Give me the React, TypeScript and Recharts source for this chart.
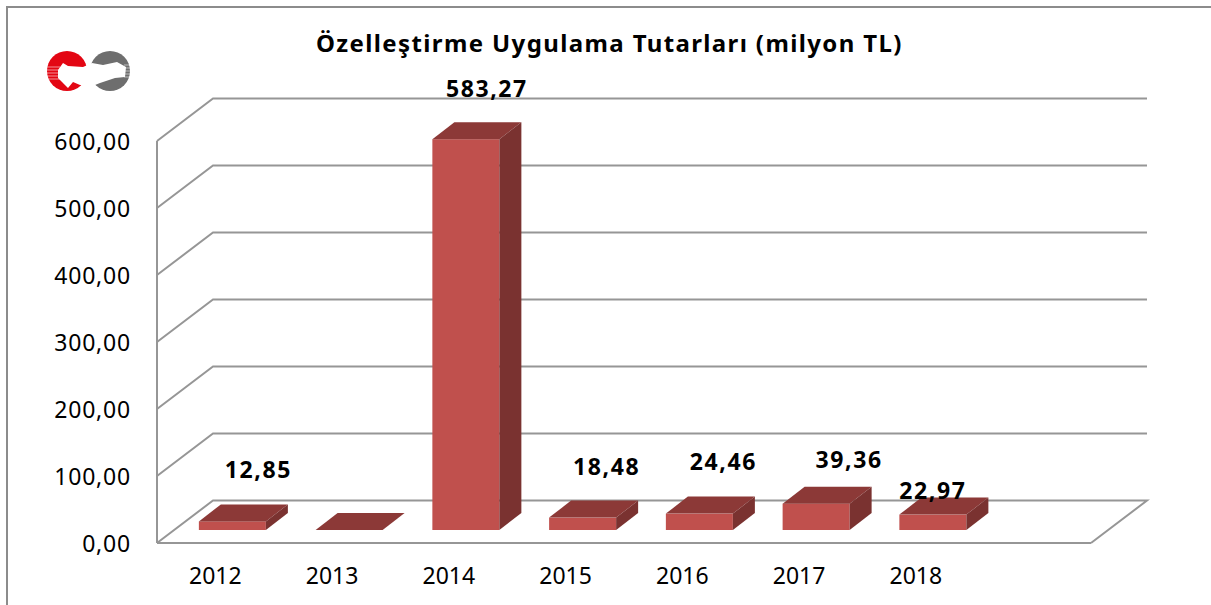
import { Bar, BarChart, CartesianGrid, LabelList, XAxis, YAxis } from 'recharts';

const years = ['2012', '2013', '2014', '2015', '2016', '2017', '2018', ''];
const amounts = [12.85, 0, 583.27, 18.48, 24.46, 39.36, 22.97, null];
const valueTicks = [0, 100, 200, 300, 400, 500, 600];

// labels were hand-placed in the original, offset from the bar's front top centre
const labelShiftX = [26, 0, 21, 24, 24, 33, 0, 0];
const labelShiftY = [-52, 0, -51, -52, -53, -45, -25, 0];

const rows = years.map((year, i) => ({ year, amount: amounts[i] }));

const GRID = '#969696';
const FONT = 'Noto Sans';
const BACK_X = 56;
const BACK_Y = -42.5;
const BAR_X = 17;
const BAR_Y = -13;
const DEPTH_X = 22;
const DEPTH_Y = -17;

const fmt = (v: number) => v.toFixed(2).replace('.', ',');

const GridLine = (props: any) => {
  const { x1, y1, x2 } = props;
  let d = `M${x1},${y1}L${x1 + BACK_X},${y1 + BACK_Y}L${x2 + BACK_X},${y1 + BACK_Y}`;
  // floor closes at the right front corner
  if (y1 > 500) d += `L${x2},${y1}`;
  return <path d={d} fill="none" stroke={GRID} strokeWidth={2} />;
};

const Bar3D = (props: any) => {
  const { width: w, height: h } = props;
  const x = props.x + BAR_X;
  const y = props.y + BAR_Y;
  const b = y + h;
  return (
    <g>
      {h > 0 && <rect x={x} y={y} width={w} height={h} fill="#c0504d" />}
      <path
        d={`M${x},${y}L${x + DEPTH_X},${y + DEPTH_Y}L${x + w + DEPTH_X},${y + DEPTH_Y}L${x + w},${y}Z`}
        fill="#8c3937"
      />
      {h > 0 && (
        <path
          d={`M${x + w},${y}L${x + w + DEPTH_X},${y + DEPTH_Y}L${x + w + DEPTH_X},${b + DEPTH_Y}L${x + w},${b}Z`}
          fill="#7a3230"
        />
      )}
    </g>
  );
};

const ValueLabel = (props: any) => {
  const { x, y, width, value, index } = props;
  if (!value) return null;
  return (
    <text
      x={x + BAR_X + width / 2 + labelShiftX[index]}
      y={y + BAR_Y + labelShiftY[index]}
      textAnchor="middle"
      dominantBaseline="central"
      fontFamily={FONT}
      fontWeight="bold"
      fontSize={23}
      letterSpacing={1.6}
      fill="#000"
    >
      {fmt(value)}
    </text>
  );
};

const Logo = () => (
  <svg width={100} height={55} style={{ position: 'absolute', left: 40, top: 45 }}>
    <g style={{ filter: 'blur(0.6px)' }}>
      <circle cx={27} cy={26} r={20} fill="#e30613" />
      <circle cx={70} cy={26} r={20} fill="#6e6e6e" />
      <path
        d="M18,25 L23,18 L28,21 L43,22 L52,18 L63,20 L77,17 L86,22 L85,32 L75,33 L60,38 L50,42 L40,40 L33,37 L28,43 L22,37 L18,33 Z"
        fill="#fff"
      />
      <path d="M7,22H20M7,25H20M7,28H20M7,31H20M7,34H22" stroke="#fff" strokeWidth={0.8} strokeOpacity={0.7} />
      <path d="M84,20H91M84,23H91M84,26H91M84,29H91M84,32H91" stroke="#fff" strokeWidth={0.8} strokeOpacity={0.7} />
    </g>
  </svg>
);

export default function App() {
  return (
    <div style={{ position: 'absolute', left: 0, top: 0, width: 1211, height: 605, background: '#fff', overflow: 'hidden' }}>
      <div style={{ position: 'absolute', left: 6, top: 6, width: 1205, height: 599, borderLeft: '2px solid #8c8c8c', borderTop: '2px solid #8c8c8c', boxSizing: 'border-box' }} />
      <Logo />
      <div
        style={{
          position: 'absolute', left: 316, top: 26, whiteSpace: 'nowrap',
          fontFamily: FONT, fontWeight: 'bold', fontSize: 24, letterSpacing: 1.38, color: '#000',
        }}
      >
        Özelleştirme Uygulama Tutarları (milyon TL)
      </div>
      <div style={{ position: 'absolute', left: 0, top: 0 }}>
        <BarChart
          width={1211}
          height={605}
          data={rows}
          barCategoryGap="21.3%"
          margin={{ top: 141, right: 120, bottom: 0, left: 0 }}
        >
          <CartesianGrid vertical={false} horizontal={GridLine} />
          <XAxis
            dataKey="year"
            interval={0}
            height={62}
            axisLine={{ stroke: GRID, strokeWidth: 2 }}
            tickLine={false}
            tickMargin={19}
            tick={{ fontFamily: FONT, fontSize: 23, fill: '#000' }}
          />
          <YAxis
            domain={[0, 600]}
            ticks={valueTicks}
            width={157}
            axisLine={{ stroke: GRID, strokeWidth: 2 }}
            tickLine={false}
            tickMargin={20}
            tickFormatter={fmt}
            tick={{ fontFamily: FONT, fontSize: 23, fill: '#000', letterSpacing: 0.8, dy: 1 }}
          />
          <Bar dataKey="amount" shape={Bar3D} isAnimationActive={false}>
            <LabelList dataKey="amount" content={ValueLabel} />
          </Bar>
        </BarChart>
      </div>
    </div>
  );
}
